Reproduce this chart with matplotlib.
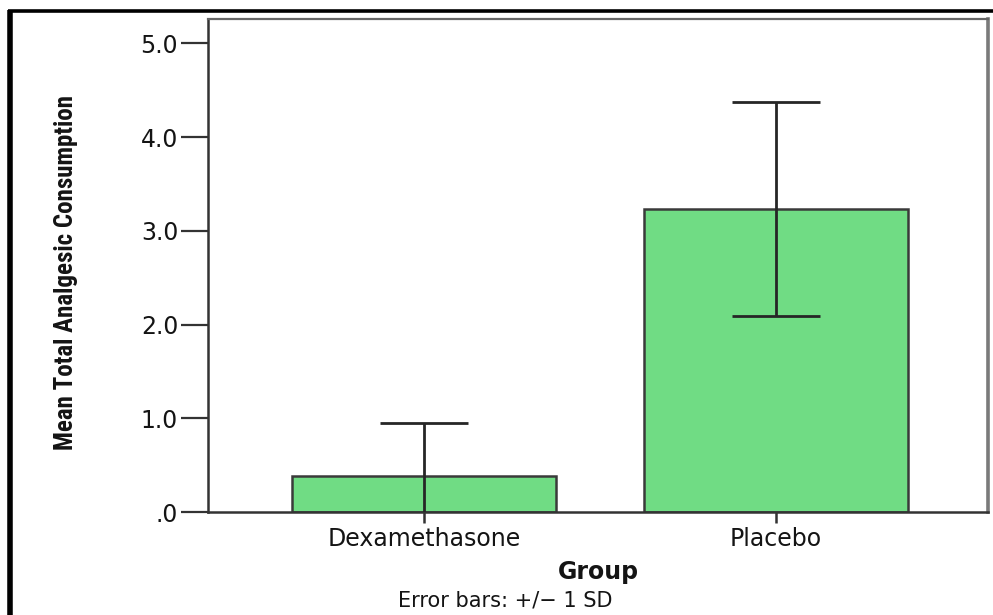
import matplotlib
matplotlib.use("Agg")
import matplotlib.pyplot as plt
from matplotlib.lines import Line2D
from matplotlib import font_manager

# Group means and standard deviations of total analgesic consumption
groups = ["Dexamethasone", "Placebo"]
means = [0.38, 3.23]
sds = [0.57, 1.14]

y_ticks = [0, 1, 2, 3, 4, 5]
y_tick_labels = [".0", "1.0", "2.0", "3.0", "4.0", "5.0"]

bar_color = "#70dc84"
text_color = "#141414"

# Pick a narrow face for the vertical axis title when one is available
installed = {f.name for f in font_manager.fontManager.ttflist}
narrow_candidates = ["Liberation Sans Narrow", "DejaVu Sans Condensed",
                     "Roboto Condensed", "Open Sans Condensed"]
narrow = [n for n in narrow_candidates if n in installed]

fig = plt.figure(figsize=(9.93, 6.15), dpi=100)
ax = fig.add_axes([208 / 993, 1 - 512 / 615, 780 / 993, 493 / 615])

x = list(range(len(groups)))
ax.bar(x, means, width=0.75, color=bar_color, edgecolor="#3a3a3a",
       linewidth=1.8, zorder=2)
ax.errorbar(x, means, yerr=sds, fmt="none", ecolor="#262626",
            elinewidth=2.0, capsize=31.5, capthick=2.0, zorder=3)

ax.set_xlim(-0.614, 1.602)
ax.set_ylim(0, 5.26)

ax.set_xticks(x)
ax.set_xticklabels(groups)
ax.set_yticks(y_ticks)
ax.set_yticklabels(y_tick_labels)

ax.tick_params(axis="y", direction="out", length=19.5, width=1.6,
               color="#333333", pad=2, labelsize=17, labelcolor=text_color)
ax.tick_params(axis="x", direction="out", length=8, width=1.8,
               color="#333333", pad=3, labelsize=17, labelcolor=text_color)

for side in ("left", "bottom"):
    ax.spines[side].set_color("#333333")
    ax.spines[side].set_linewidth(1.8)
ax.spines["top"].set_color("#666666")
ax.spines["top"].set_linewidth(1.6)
ax.spines["right"].set_color("#7a7a7a")
ax.spines["right"].set_linewidth(2.6)

ax.set_xlabel("Group", fontsize=17, fontweight="bold", color=text_color,
              labelpad=6)

if narrow:
    ylab_family, ylab_size = [narrow[0], "DejaVu Sans"], 18
else:
    ylab_family, ylab_size = ["DejaVu Sans"], 13
fig.text(66 / 993, 1 - 273 / 615, "Mean Total Analgesic Consumption",
         rotation=90, ha="center", va="center", fontsize=ylab_size,
         fontweight="bold", color=text_color, family=ylab_family)

fig.text(505 / 993, 1 - 601 / 615, "Error bars: +/\u2212 1 SD",
         ha="center", va="center", fontsize=15, color=text_color)

# Black frame along the top and left edges
fig.add_artist(Line2D([8 / 993, 1.0], [1 - 11 / 615, 1 - 11 / 615],
                      transform=fig.transFigure, color="black",
                      linewidth=2.6, solid_capstyle="butt"))
fig.add_artist(Line2D([10 / 993, 10 / 993], [1 - 10 / 615, 0.0],
                      transform=fig.transFigure, color="black",
                      linewidth=4.0, solid_capstyle="butt"))

fig.savefig("out.png", dpi=100)
